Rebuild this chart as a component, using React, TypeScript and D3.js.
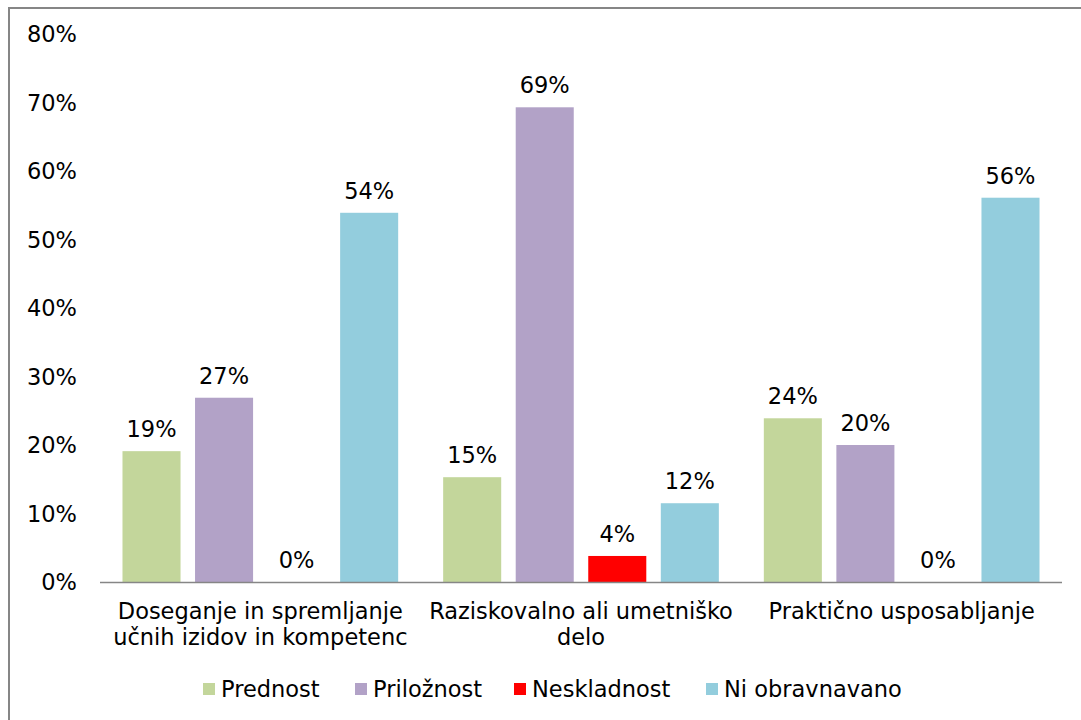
import React, { useEffect, useRef } from 'react';
import * as d3 from 'd3';

const categories = [
  ['Doseganje in spremljanje', 'učnih izidov in kompetenc'],
  ['Raziskovalno ali umetniško', 'delo'],
  ['Praktično usposabljanje'],
];
const seriesNames = ['Prednost', 'Priložnost', 'Neskladnost', 'Ni obravnavano'];
const seriesColors = ['#C3D69B', '#B2A2C7', '#FF0000', '#93CDDD'];
const prednost = [0.191, 0.153, 0.239];
const priloznost = [0.269, 0.693, 0.2];
const neskladnost = [0, 0.038, 0];
const niObravnavano = [0.539, 0.115, 0.561];
const yTicks = [0, 0.1, 0.2, 0.3, 0.4, 0.5, 0.6, 0.7, 0.8];

const W = 1081;
const H = 720;
const FONT = '"DejaVu Sans", Verdana, sans-serif';
const FS = 22.5;

const App: React.FC = () => {
  const svgRef = useRef<SVGSVGElement>(null);

  useEffect(() => {
    if (!svgRef.current) return;
    const svg = d3.select(svgRef.current);
    svg.selectAll('*').remove();

    const values = [prednost, priloznost, neskladnost, niObravnavano];

    // outer frame (only top/left visible in the original)
    svg.append('rect')
      .attr('x', 9).attr('y', 8)
      .attr('width', W + 20).attr('height', H + 20)
      .attr('fill', 'white')
      .attr('stroke', '#868686').attr('stroke-width', 2);

    const left = 100, right = 1062, top = 34, bottom = 582;

    const x0 = d3.scaleBand<number>()
      .domain(d3.range(categories.length))
      .range([left, right])
      .padding(0);
    const x1 = d3.scaleBand<number>()
      .domain(d3.range(seriesNames.length))
      .range([0, x0.bandwidth()])
      .paddingInner(0.2)
      .paddingOuter(0.31);
    const y = d3.scaleLinear().domain([0, 0.8]).range([bottom, top]);

    const fmt = d3.format('.0%');

    // y tick labels
    svg.append('g')
      .selectAll('text')
      .data(yTicks)
      .join('text')
      .attr('x', 77)
      .attr('y', d => y(d))
      .attr('dy', '0.36em')
      .attr('text-anchor', 'end')
      .style('font', `${FS}px ${FONT}`)
      .attr('fill', '#000')
      .text(d => fmt(d));

    // bars
    const groups = svg.append('g')
      .selectAll('g')
      .data(categories.map((_, i) => i))
      .join('g')
      .attr('transform', i => `translate(${x0(i)},0)`);

    groups.selectAll('rect')
      .data(ci => values.map((s, si) => ({ si, v: s[ci] })))
      .join('rect')
      .attr('x', d => x1(d.si)!)
      .attr('width', x1.bandwidth())
      .attr('y', d => y(d.v))
      .attr('height', d => bottom - y(d.v))
      .attr('fill', d => seriesColors[d.si]);

    groups.selectAll('text')
      .data(ci => values.map((s, si) => ({ si, v: s[ci] })))
      .join('text')
      .attr('x', d => x1(d.si)! + x1.bandwidth() / 2)
      .attr('y', d => y(d.v) - 14)
      .attr('text-anchor', 'middle')
      .style('font', `${FS}px ${FONT}`)
      .attr('fill', '#000')
      .text(d => fmt(d.v));

    // baseline
    svg.append('line')
      .attr('x1', left).attr('x2', right)
      .attr('y1', bottom + 0.5).attr('y2', bottom + 0.5)
      .attr('stroke', '#868686').attr('stroke-width', 1.5);

    // category labels
    const catLabels = svg.append('g')
      .selectAll('text')
      .data(categories)
      .join('text')
      .attr('text-anchor', 'middle')
      .style('font', `${FS}px ${FONT}`)
      .attr('fill', '#000')
      .attr('transform', (_, i) => `translate(${x0(i)! + x0.bandwidth() / 2},619)`);
    catLabels.selectAll('tspan')
      .data(d => d)
      .join('tspan')
      .attr('x', 0)
      .attr('y', (_, i) => i * 26)
      .text(d => d);

    // legend
    const legendX = [203, 355, 514, 706];
    const legend = svg.append('g')
      .selectAll('g')
      .data(seriesNames)
      .join('g')
      .attr('transform', (_, i) => `translate(${legendX[i]},689)`);
    legend.append('rect')
      .attr('x', 0).attr('y', -6)
      .attr('width', 12).attr('height', 12)
      .attr('fill', (_, i) => seriesColors[i]);
    legend.append('text')
      .attr('x', 18)
      .attr('y', 0)
      .attr('dy', '0.36em')
      .style('font', `${FS}px ${FONT}`)
      .attr('fill', '#000')
      .text(d => d);
  }, []);

  return (
    <div style={{ position: 'fixed', left: 0, top: 0, width: W, height: H, background: 'white' }}>
      <svg ref={svgRef} width={W} height={H} style={{ display: 'block' }} />
    </div>
  );
};

export default App;
